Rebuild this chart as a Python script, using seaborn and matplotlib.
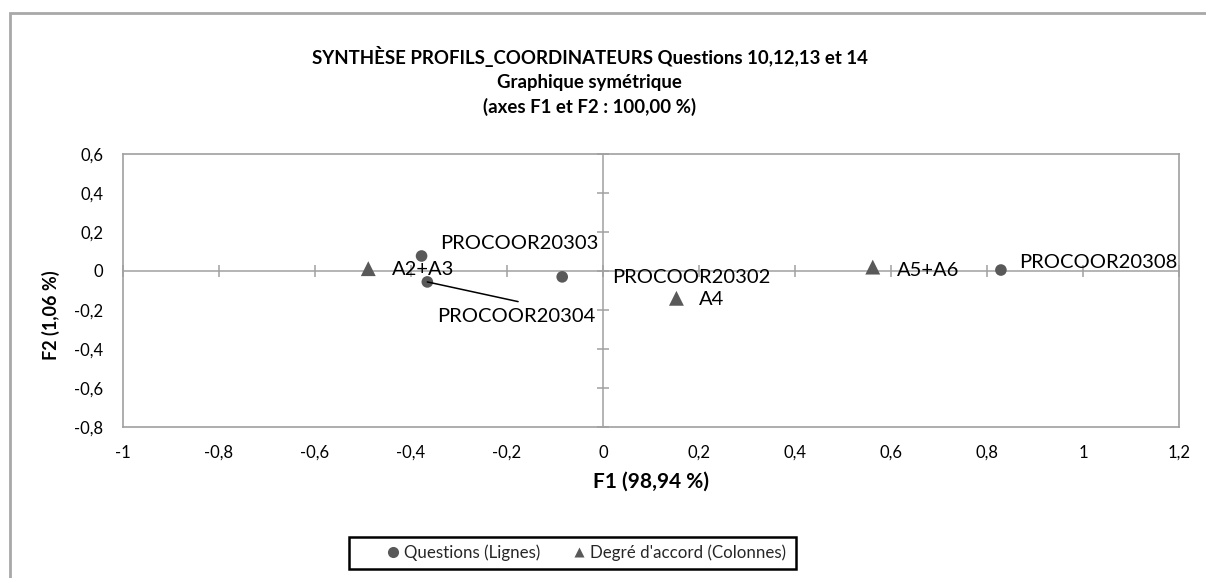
import matplotlib
matplotlib.use("Agg")
import matplotlib.pyplot as plt
import matplotlib.patches as mpatches
from matplotlib.lines import Line2D
import pandas as pd
import seaborn as sns

# Correspondence analysis coordinates (F1, F2)
row_names = ["PROCOOR20303", "PROCOOR20304", "PROCOOR20302", "PROCOOR20308"]
row_f1 = [-0.378, -0.366, -0.085, 0.829]
row_f2 = [0.077, -0.056, -0.030, 0.005]

col_names = ["A2+A3", "A4", "A5+A6"]
col_f1 = [-0.489, 0.153, 0.562]
col_f2 = [0.012, -0.140, 0.020]

row_group = "Questions (Lignes)"
col_group = "Degré d'accord (Colonnes)"

x_ticks = [-1, -0.8, -0.6, -0.4, -0.2, 0, 0.2, 0.4, 0.6, 0.8, 1, 1.2]
y_ticks = [-0.8, -0.6, -0.4, -0.2, 0, 0.2, 0.4, 0.6]

title = ("SYNTHÈSE PROFILS_COORDINATEURS Questions 10,12,13 et 14\n"
         "Graphique symétrique\n(axes F1 et F2 : 100,00 %)")
x_label = "F1 (98,94 %)"
y_label = "F2 (1,06 %)"

rows = pd.DataFrame({"label": row_names, "F1": row_f1, "F2": row_f2})
cols = pd.DataFrame({"label": col_names, "F1": col_f1, "F2": col_f2})

sns.set_theme(style="white")
plt.rcParams["font.family"] = ["Lato", "DejaVu Sans"]

FONT = "#000000"
GREY_MARK = "#595959"
GREY_LINE = "#a0a0a0"

fig = plt.figure(figsize=(12.06, 5.78), dpi=100)
ax = fig.add_axes([0.102, 0.2612, 0.8756, 0.4724])

# outer chart border
fig.patches.append(mpatches.Rectangle((10 / 1206, -0.05), 1.1, 1 - 13 / 578 + 0.05,
                                      transform=fig.transFigure, fill=False,
                                      edgecolor="#a8a8a8", lw=2, zorder=0))

# zero axes with crossing tick marks
ax.axhline(0, color=GREY_LINE, lw=1.1, zorder=1)
ax.axvline(0, color=GREY_LINE, lw=1.1, zorder=1)
ax.plot(x_ticks, [0] * len(x_ticks), ls="none", marker="|", ms=9, mew=1.1,
        color=GREY_LINE, zorder=1, clip_on=False)
ax.plot([0] * len(y_ticks), y_ticks, ls="none", marker="_", ms=9, mew=1.1,
        color=GREY_LINE, zorder=1, clip_on=False)

sns.scatterplot(data=rows, x="F1", y="F2", marker="o", color=GREY_MARK, s=70,
                edgecolor="none", ax=ax, legend=False, zorder=3)
sns.scatterplot(data=cols, x="F1", y="F2", marker="^", color=GREY_MARK, s=115,
                edgecolor="none", ax=ax, legend=False, zorder=3)

# point labels (offsets in pixels from each point)
offsets = {
    "PROCOOR20303": (19, 12),
    "PROCOOR20304": (10, -35),
    "PROCOOR20302": (50, -1),
    "PROCOOR20308": (18, 8),
    "A2+A3": (24, -1),
    "A4": (22, -1),
    "A5+A6": (24, -3),
}
for frame in (rows, cols):
    for _, r in frame.iterrows():
        dx, dy = offsets[r["label"]]
        kw = {}
        if r["label"] == "PROCOOR20304":
            kw["arrowprops"] = dict(arrowstyle="-", color="black", lw=1.1,
                                    shrinkA=0, shrinkB=0, relpos=(0.51, 1.4))
        ax.annotate(r["label"], (r["F1"], r["F2"]), xytext=(dx, dy),
                    textcoords="offset pixels", ha="left", va="center",
                    fontsize=14.5, color=FONT, zorder=4, **kw)

ax.set_xlim(-1, 1.2)
ax.set_ylim(-0.8, 0.6)
ax.set_xticks(x_ticks)
ax.set_yticks(y_ticks)
fmt = lambda v: ("%g" % v).replace(".", ",")
ax.set_xticklabels([fmt(v) for v in x_ticks])
ax.set_yticklabels([fmt(v) for v in y_ticks])
ax.tick_params(axis="both", length=0, labelsize=12, colors=FONT)
ax.tick_params(axis="x", pad=13)
ax.tick_params(axis="y", pad=14)
for s in ax.spines.values():
    s.set_color(GREY_LINE)
    s.set_linewidth(1.2)

ax.set_xlabel(x_label, fontsize=15, fontweight="bold", color=FONT, va="center")
ax.xaxis.set_label_coords(0.5, -0.2)
ax.set_ylabel(y_label, fontsize=13, fontweight="bold", color=FONT)
ax.yaxis.set_label_coords(-0.06, 0.41)

fig.text(0.489, 1 - 81 / 578, title, ha="center", va="center", fontsize=13.4,
         fontweight="bold", color=FONT, linespacing=1.5)

handles = [
    Line2D([], [], ls="none", marker="o", ms=8, color=GREY_MARK, mec="none"),
    Line2D([], [], ls="none", marker="^", ms=7, color=GREY_MARK, mec="none"),
]
leg = fig.legend(handles, [row_group, col_group], loc="center",
                 bbox_to_anchor=(0.486, 1 - 553 / 578), ncol=2, frameon=False,
                 fontsize=12.2, handletextpad=0.25, columnspacing=1.9,
                 handlelength=0.8, borderpad=0.0)
# legend box
fig.patches.append(mpatches.Rectangle((349 / 1206, 1 - 569 / 578), 447 / 1206, 32 / 578,
                                      transform=fig.transFigure, fill=False,
                                      edgecolor="black", lw=1.8, zorder=5))

fig.savefig("out.png", dpi=100)
